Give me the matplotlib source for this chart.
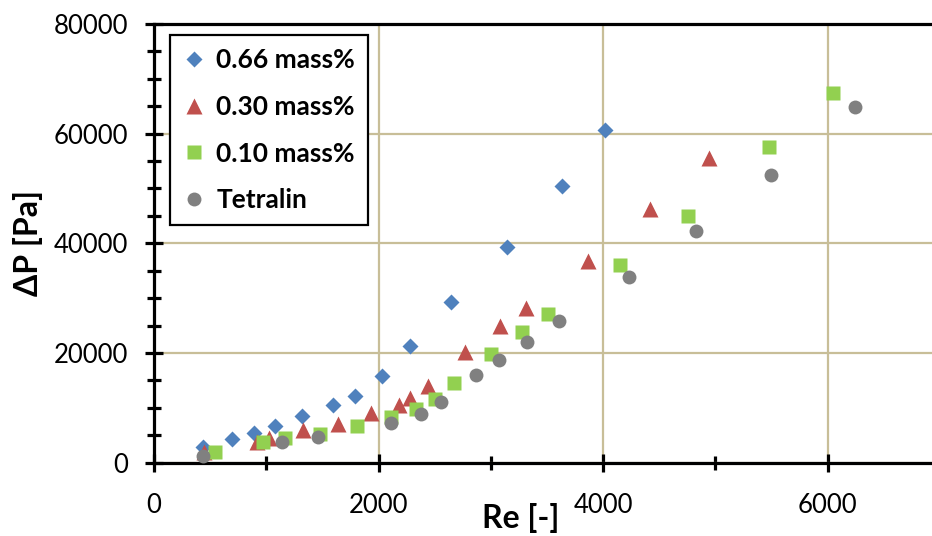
import numpy as np
import matplotlib
matplotlib.use("Agg")
import matplotlib.pyplot as plt
from matplotlib.ticker import MultipleLocator

plt.rcParams['font.family'] = ['Lato', 'DejaVu Sans']

# data
re_066 = [436, 693, 889, 1076, 1316, 1591, 1787, 2027, 2276, 2649, 3147, 3636, 4018]
dp_066 = [2930, 4390, 5490, 6770, 8420, 10430, 12080, 15740, 21240, 29290, 39360, 50530, 60600]

re_030 = [444, 916, 1022, 1324, 1636, 1929, 2178, 2284, 2444, 2773, 3084, 3316, 3867, 4418, 4942]
dp_030 = [2010, 3840, 4580, 6040, 7140, 8970, 10430, 11720, 13910, 20140, 24900, 28190, 36800, 46320, 55470]

re_010 = [542, 969, 1164, 1476, 1804, 2107, 2338, 2507, 2676, 3004, 3280, 3511, 4151, 4756, 5476, 6044]
dp_010 = [2010, 3840, 4580, 5310, 6770, 8240, 9700, 11530, 14460, 19770, 23800, 27090, 36060, 45030, 57480, 67370]

re_tet = [436, 1138, 1458, 2107, 2382, 2560, 2871, 3076, 3324, 3609, 4231, 4827, 5493, 6240]
dp_tet = [1280, 3840, 4760, 7320, 8790, 10980, 15930, 18670, 21970, 25810, 33870, 42290, 52540, 64810]

fig = plt.figure(figsize=(9.32, 5.36), dpi=100)
ax = fig.add_axes([0.1652, 0.1368, 0.8433, 0.8186])

ax.plot(re_066, dp_066, 'D', color='#4F81BD', ms=8.4, mec='none', label='0.66 mass%', zorder=3)
ax.plot(re_030, dp_030, '^', color='#C0504D', ms=11, mec='none', label='0.30 mass%', zorder=3)
ax.plot(re_010, dp_010, 's', color='#92D050', ms=10, mec='none', label='0.10 mass%', zorder=3)
ax.plot(re_tet, dp_tet, 'o', color='#808080', ms=10, mec='none', label='Tetralin', zorder=3)

ax.set_xlim(0, 7000)
ax.set_ylim(0, 80000)
ax.xaxis.set_major_locator(MultipleLocator(2000))
ax.xaxis.set_minor_locator(MultipleLocator(1000))
ax.yaxis.set_major_locator(MultipleLocator(20000))
ax.yaxis.set_minor_locator(MultipleLocator(5000))

ax.grid(True, which='major', color='#C8BE98', lw=1.6, zorder=0)
ax.set_axisbelow(True)

for s in ['left', 'bottom', 'top']:
    ax.spines[s].set_linewidth(2.3)
    ax.spines[s].set_color('black')
ax.spines['right'].set_visible(False)

ax.tick_params(which='major', direction='inout', length=13, width=2.3, labelsize=18.5)
ax.tick_params(axis='y', which='major', pad=12)
ax.tick_params(axis='x', which='major', pad=15)
ax.tick_params(which='minor', direction='inout', length=10, width=2.3)
ax.tick_params(axis='x', which='both', top=False)

ax.set_xlabel('Re [-]', fontsize=23, fontweight='bold')
ax.xaxis.set_label_coords(0.466, -0.093)
ax.set_ylabel('ΔP [Pa]', fontsize=23, fontweight='bold', labelpad=8)

leg = ax.legend(loc='upper left', bbox_to_anchor=(170 / 932, 1 - 35 / 536),
                bbox_transform=fig.transFigure, fancybox=False, framealpha=1,
                edgecolor='black', prop={'size': 19, 'weight': 'bold'},
                handlelength=0.8, handletextpad=0.45, labelspacing=0.86,
                borderpad=0.5, borderaxespad=0)
leg.get_frame().set_linewidth(1.6)

fig.savefig('out.png', dpi=100)
